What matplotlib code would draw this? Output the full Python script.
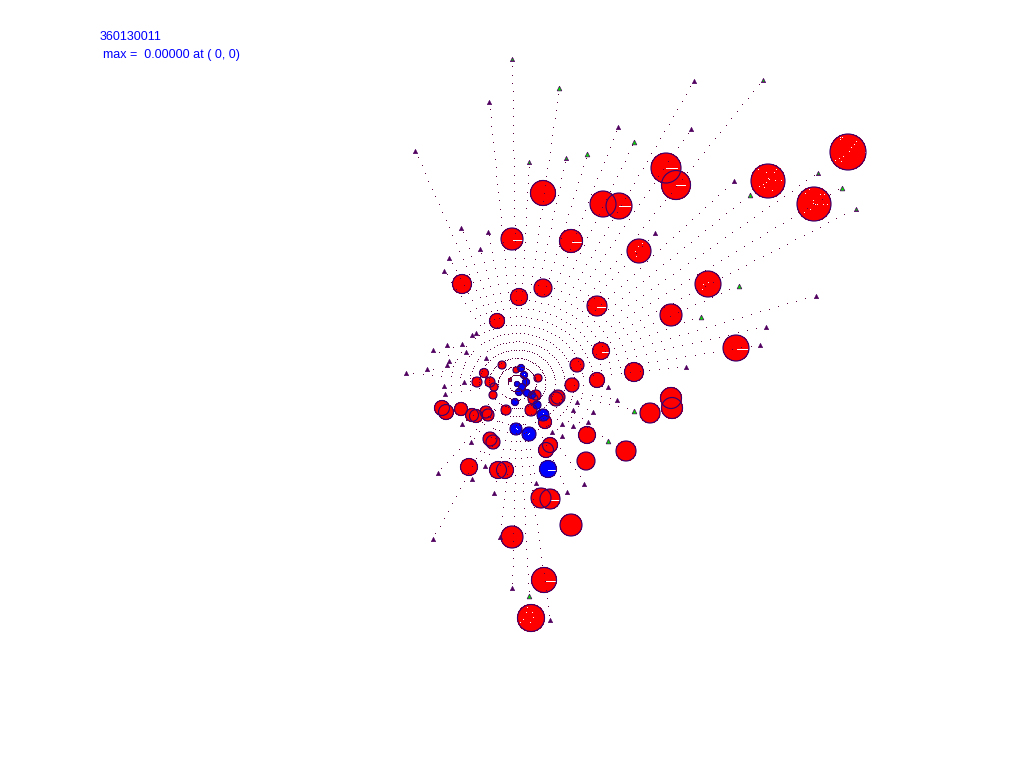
import numpy as np
import matplotlib
matplotlib.use("Agg")
import matplotlib.pyplot as plt
from matplotlib.patches import Circle

title_id = "360130011"
max_label = "max =  0.00000 at ( 0, 0)"

center = (517.0, 384.0)
step_x, step_y = 9.5, 8.33   # ring spacing read from the dotted rays

# antennas: end points of the dotted rays (x, y)
tri_purple_x = [489,734,461,488,480,449,444,472,476,433,447,462,466,449,447,427,406,
                438,433,472,485,494,536,567,584,500,512,550,471,552,562,655,766,760,686,608,816,618,691,694,415,
                617,577,573,593,573,588,562,464,486,444,445,462]
tri_purple_y = [102,181,228,232,249,258,271,335,333,350,345,344,352,361,365,369,373,
                473,539,479,466,493,483,492,484,537,588,620,442,432,436,233,327,345,367,387,296,127,129,81,151,
                400,402,410,412,426,422,424,382,358,386,394,424]
tri_mixed_x = [512,529,566,763,818,856]
tri_mixed_y = [59,162,158,80,173,209]
tri_green_x = [559,587,750,842,739,701,529,634,634,608]
tri_green_y = [88,154,195,188,286,317,596,142,411,441]

# stations: red circles
red_x = [848,768,814,666,676,603,619,543,571,512,639,708,462,543,519,597,671,497,736,601,577,634,597,572,558,556,
         671,672,650,442,446,461,472,476,486,488,506,531,545,490,493,550,546,587,626,586,469,498,505,541,550,571,
         512,544,531,502,484,477,490,494,493,516,538,536,533,510]
red_y = [152,181,204,168,185,204,206,193,241,239,251,284,284,288,297,306,315,321,348,351,365,372,380,385,397,399,
         398,408,413,408,412,409,415,416,412,415,410,410,422,439,442,445,450,435,451,461,467,470,470,498,499,525,
         537,580,618,365,373,382,382,387,395,370,378,395,399,380]
red_r = [18,17,17,15,14.5,13,13,12.5,11.5,11,12,13,9.5,9,8.5,10,11,7.5,13,8.5,7,9.5,7.5,7,7,7,
         10.5,10.5,10,7.5,7.5,6.5,6.5,6.5,6,6,5,6,6.5,7,7,7.5,7.5,8.5,10,9,8.5,8.5,8.5,10,10,11,
         11,12.5,13.5,4,4.5,5,5,4,4,3,4,5,5,1.5]
# stations: blue circles
blue_x = [548,529,516,543,537,515,526,519,527,532,524,521,522,517]
blue_y = [469,434,429,415,405,402,382,392,393,395,375,368,387,384]
blue_r = [8.5,7,6,6,4,3.5,3.5,3.5,3.5,3.5,3.5,3.5,3.5,2.5]

# white flecks on the discs
fleck_x = [840,842,840,856,854,851,849,843,839,835,841,865,
           758,776,766,774,768,769,775,781,766,763,759,764,772,
           809,805,813,813,815,817,823,827,820,824,810,804,
           527,532,526,523,533,530,520,
           703,708,702,698,638,635,642,636,
           516,517,529,528,543,524,521,526]
fleck_y = [138,138,140,142,145,148,152,157,159,161,162,153,
           170,170,173,173,179,180,181,181,183,185,187,188,191,
           190,194,201,204,205,205,205,205,195,195,210,213,
           608,613,613,620,618,623,623,
           285,283,290,293,247,252,244,257,
           429,430,434,435,414,375,368,382]
dash_x0 = [545,550,602,572,513,597,737,548,619,676,666]
dash_x1 = [557,559,610,581,523,605,747,556,630,685,677]
dash_y = [581,500,352,242,240,307,349,470,206,185,168]

col_red, col_blue = "#ff0000", "#0000ff"
col_edge, col_dot, col_tri, col_green = "#38006e", "#5a0040", "#50005f", "#00e000"

fig = plt.figure(figsize=(10.24, 7.68), dpi=100, facecolor="white")
ax = fig.add_axes([0, 0, 1, 1])
ax.set_xlim(0, 1024)
ax.set_ylim(768, 0)
ax.axis("off")

for xs, ys, rs, col in ((red_x, red_y, red_r, col_red), (blue_x, blue_y, blue_r, col_blue)):
    for x, y, r in zip(xs, ys, rs):
        ax.add_patch(Circle((x, y), r, fc=col, ec="none", antialiased=False, zorder=2))

ax.plot(fleck_x, fleck_y, ls="none", marker=",", color="white", zorder=2.5)
ax.hlines(dash_y, dash_x0, dash_x1, color="white", lw=0.5, antialiased=False, zorder=2.5)

for xs, ys, rs in ((red_x, red_y, red_r), (blue_x, blue_y, blue_r)):
    for x, y, r in zip(xs, ys, rs):
        ax.add_patch(Circle((x, y), r, fc="none", ec=col_edge, lw=0.85, antialiased=True, zorder=3))

# dotted rays
dx, dy = [], []
for tx, ty in zip(tri_purple_x + tri_mixed_x + tri_green_x, tri_purple_y + tri_mixed_y + tri_green_y):
    vx, vy = tx - center[0], ty - center[1]
    length = np.hypot(vx, vy)
    step = 1.0 / np.hypot(vx / length / step_x, vy / length / step_y)
    rr = np.arange(step, length - 4, step)
    dx.extend(center[0] + rr * vx / length)
    dy.extend(center[1] + rr * vy / length)
ax.plot(dx, dy, ls="none", marker=",", color=col_dot, zorder=4)

# antennas
ax.plot(tri_purple_x, tri_purple_y, ls="none", marker="^", ms=3.2, mfc=col_tri, mec=col_tri, mew=0.4, zorder=5)
ax.plot(tri_mixed_x, tri_mixed_y, ls="none", marker="^", ms=3.2, mfc=col_tri, mec=col_tri, mew=0.4, zorder=5)
ax.plot(tri_mixed_x, tri_mixed_y, ls="none", marker="^", ms=1.6, mfc=col_green, mec="none", zorder=6)
ax.plot(tri_green_x, tri_green_y, ls="none", marker="^", ms=3.4, mfc=col_green, mec=col_tri, mew=0.5, zorder=5)

ax.text(100, 37, title_id, color="#0000ff", fontsize=9, family="Liberation Sans", va="center", ha="left")
ax.text(103, 55, max_label, color="#0000ff", fontsize=9, family="Liberation Sans", va="center", ha="left")

fig.savefig("out.png", dpi=100, facecolor="white")
